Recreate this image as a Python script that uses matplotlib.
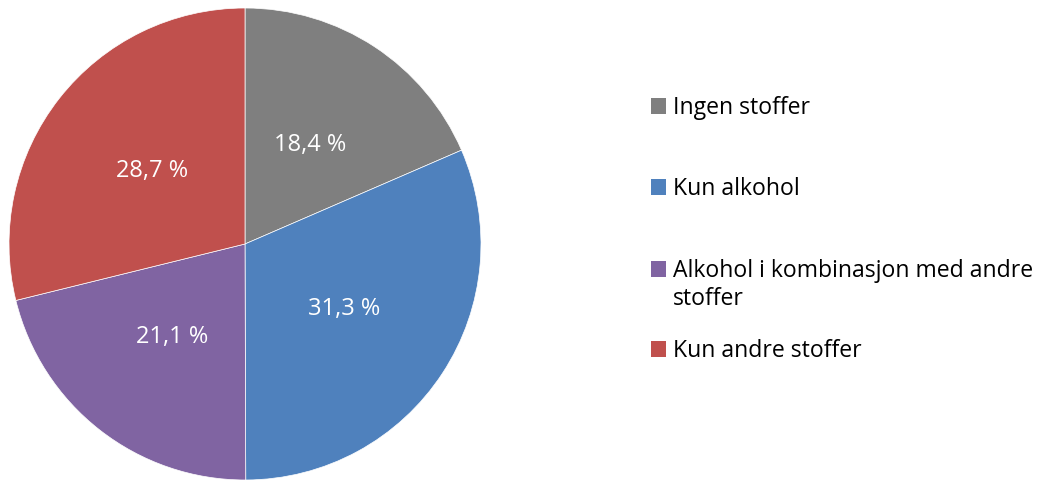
import matplotlib
matplotlib.use('Agg')
from matplotlib import pyplot as plt
from matplotlib.patches import Patch

plt.rcParams['font.family'] = ['Open Sans', 'DejaVu Sans']

labels = ['Ingen stoffer', 'Kun alkohol',
          'Alkohol i kombinasjon med andre\nstoffer', 'Kun andre stoffer']
values = [18.4, 31.3, 21.1, 28.7]
colors = ['#7F7F7F', '#4F81BD', '#8064A2', '#C0504D']
# vertical centre (pixels from top) of each legend entry's first line
legend_y = [108, 189, 271, 351]

fig = plt.figure(figsize=(10.44, 4.8), dpi=100)
ax = fig.add_axes([9 / 1044, 0, 472 / 1044, 472 / 480])

# printed labels use the published values (they sum to 99.5, not 100)
vals_iter = iter(values)
wedges, texts, autotexts = ax.pie(
    values, colors=colors, startangle=90, counterclock=False,
    autopct=lambda p: '{:.1f} %'.format(next(vals_iter)).replace('.', ','),
    pctdistance=0.5, radius=1,
    wedgeprops=dict(edgecolor='white', linewidth=0.5),
    textprops=dict(color='white', fontsize=17))
ax.set_xlim(-1, 1)
ax.set_ylim(-1, 1)
ax.set_aspect('equal')

fs = 16.6
for lab, col, y in zip(labels, colors, legend_y):
    first = lab.split('\n')[0]
    fig.legend(handles=[Patch(facecolor=col, edgecolor='none')], labels=[first],
               loc='center left', bbox_to_anchor=(651 / 1044, 1 - y / 480),
               frameon=False, fontsize=fs, handlelength=0.65, handleheight=0.65,
               handletextpad=0.3, borderpad=0, borderaxespad=0)
    if '\n' in lab:
        fig.text(673 / 1044, 1 - 299 / 480, lab.split('\n')[1], fontsize=fs,
                 va='center', ha='left')

fig.savefig('out.png', dpi=100)
print('done')
